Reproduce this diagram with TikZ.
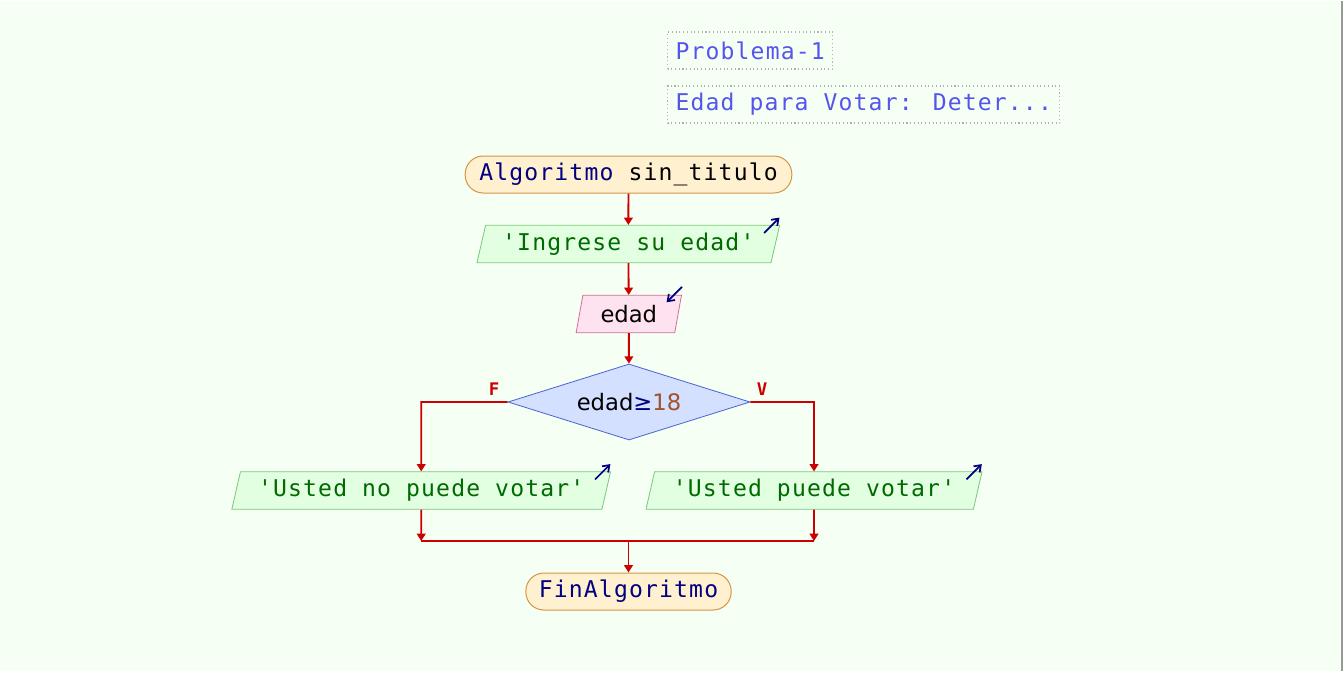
\documentclass[tikz,border=0pt]{standalone}
\usepackage{fontspec}
\usetikzlibrary{shapes.geometric,arrows.meta}
\newfontfamily\pmono[LetterSpace=5]{DejaVu Sans Mono}
\newfontfamily\psans{DejaVu Sans}
\definecolor{fondo}{HTML}{F6FFF3}
\definecolor{rojo}{HTML}{CC0000}
\definecolor{azulc}{HTML}{5555EE}
\definecolor{marino}{HTML}{000080}
\definecolor{verdet}{HTML}{006A00}
\definecolor{cafe}{HTML}{A0522D}

\begin{document}
\begin{tikzpicture}[x=0.75pt, y=-0.75pt,
  every node/.style={font=\pmono\fontsize{17.3pt}{19pt}\selectfont},
  comentario/.style={draw=gray!60, dotted, line width=0.8pt, text=azulc, anchor=west, minimum height=27.75pt, inner xsep=6pt},
  terminal/.style={draw={rgb,255:red,210;green,150;blue,70}, fill={rgb,255:red,255;green,240;blue,208}, rounded corners=13.5pt, minimum height=27.75pt, inner sep=0pt, line width=0.75pt},
  salida/.style={trapezium, trapezium left angle=69, trapezium right angle=111, trapezium stretches body, draw={rgb,255:red,120;green,200;blue,120}, fill={rgb,255:red,226;green,255;blue,226}, text=verdet, minimum height=28pt, inner sep=0pt, line width=0.6pt},
  entrada/.style={salida, draw={rgb,255:red,210;green,110;blue,150}, fill={rgb,255:red,255;green,226;blue,240}, text=black},
  decision/.style={diamond, aspect=3.18, draw={rgb,255:red,70;green,100;blue,210}, fill={rgb,255:red,212;green,224;blue,255}, minimum width=181.5pt, minimum height=57pt, inner sep=0pt, line width=0.6pt},
  flujo/.style={draw=rojo, line width=1.4pt, -{Triangle[length=5.5pt,width=6.5pt]}},
  linea/.style={draw=rojo, line width=1.4pt},
  icono/.style={draw=marino, line width=1.3pt, -{Straight Barb[length=4.5pt,width=6.5pt]}},
  rama/.style={text=rojo, font=\pmono\bfseries\fontsize{13pt}{14pt}\selectfont}]

% fondo y borde
\fill[fondo] (0,0) rectangle (1343,670);
\draw[gray!80, line width=1.5pt] (1341.5,0) -- (1341.5,670);

% comentarios
\node[comentario] (prob) at (667,49.5) {Problema-1};
\node[comentario] (desc) at (667,103.5) {Edad para Votar: Deter...};

% diagrama
\node[terminal, minimum width=245pt] (inicio) at (628.5,173.5) {\textcolor{marino}{Algoritmo} sin{\char"5F}titulo};
\node[salida, minimum width=227pt] (sal1) at (628.3,243) {'Ingrese su edad'};
\node[entrada, minimum width=79pt, font=\psans\fontsize{17pt}{19pt}\selectfont] (ent) at (628.8,313) {edad};
\node[decision, font=\psans\fontsize{17pt}{19pt}\selectfont] (cond) at (629,401) {edad\textcolor{marino}{≥}\textcolor{cafe}{18}};
\node[salida, minimum width=284pt] (salF) at (421.2,489.5) {'Usted no puede votar'};
\node[salida, minimum width=252pt] (salV) at (814,489.5) {'Usted puede votar'};
\node[terminal, minimum width=154pt] (fin) at (628.5,590.5) {\textcolor{marino}{FinAlgoritmo}};

\coordinate (codoF) at (421.2,401);
\coordinate (codoV) at (814,401);
\coordinate (unF) at (421.2,540);
\coordinate (unV) at (814,540);
\coordinate (unM) at (628.5,540);

% iconos de entrada/salida
\draw[icono] ([xshift=-12pt,yshift=-6pt]sal1.top right corner) -- ++(11.5pt,11.5pt);
\draw[icono] ([xshift=-12pt,yshift=-6pt]salF.top right corner) -- ++(11.5pt,11.5pt);
\draw[icono] ([xshift=-12pt,yshift=-6pt]salV.top right corner) -- ++(11.5pt,11.5pt);
\draw[icono] ([xshift=0pt,yshift=6pt]ent.top right corner) -- ++(-11.5pt,-11.5pt);

% conectores
\draw[flujo] (inicio) -- (sal1);
\draw[flujo] (sal1) -- (ent);
\draw[flujo] (ent) -- (cond);
\draw[flujo] (cond.west) -- (codoF) -- (salF);
\draw[flujo] (cond.east) -- (codoV) -- (salV);
\draw[flujo] (salF) -- (unF);
\draw[flujo] (salV) -- (unV);
\draw[linea] (unF) -- (unV);
\draw[flujo] (unM) -- (fin);

\node[rama] (etF) at (494,388) {F};
\node[rama] (etV) at (762,388) {V};
\end{tikzpicture}
\end{document}
